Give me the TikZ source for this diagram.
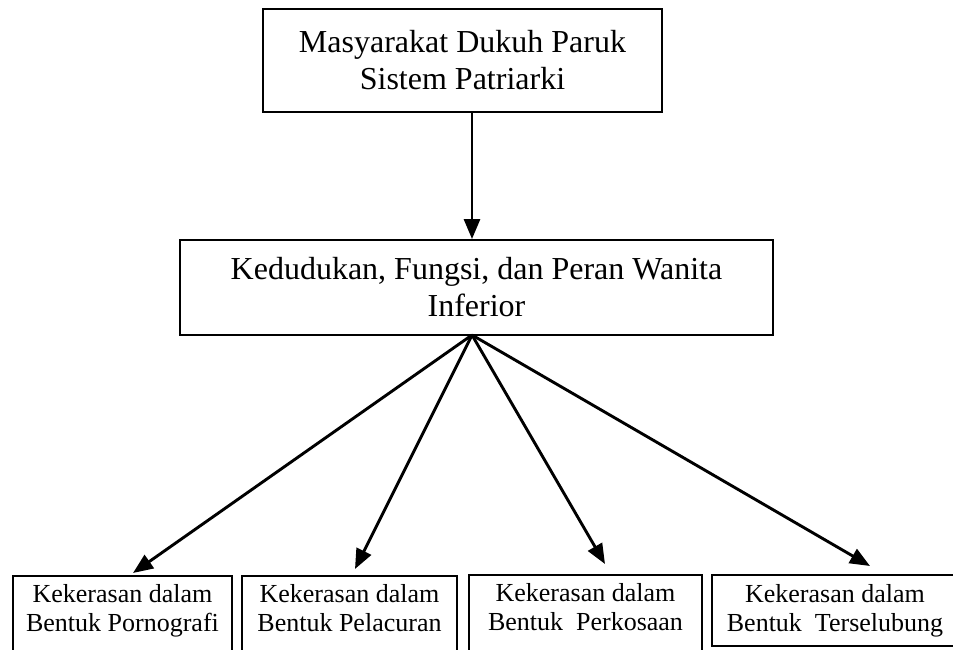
\documentclass[tikz,border=0pt]{standalone}
\usepackage{fontspec}
\setmainfont{Liberation Serif}
\usetikzlibrary{
  arrows.meta,  % panah segitiga
  positioning   % penempatan relatif
}

\begin{document}
\begin{tikzpicture}[x=1pt, y=-1pt, >={Triangle[length=20pt, width=16pt]},
    kotak/.style={draw, line width=1.9pt, align=center, inner xsep=0pt},
    kotakbesar/.style={kotak, font=\fontsize{32}{37}\selectfont, inner ysep=0pt},
    kotakkecil/.style={kotak, font=\fontsize{26}{29}\selectfont, anchor=north, inner ysep=9pt, minimum height=71pt},
    kotakterbuka/.style={kotakkecil, text depth=40pt},
    panah/.style={->, line width=2.9pt}]
    % batas gambar
    \clip (0,0) rectangle (953,650);

    % kotak atas dan tengah
    \node[kotakbesar, minimum width=399pt, minimum height=103pt] (atas) at (462.5,60.5)
        {Masyarakat Dukuh Paruk\\Sistem Patriarki};
    \node[kotakbesar, minimum width=593pt, minimum height=95pt] (tengah) at (476.5,287.5)
        {Kedudukan, Fungsi, dan Peran Wanita\\Inferior};

    % kotak bawah
    \node[kotakterbuka, minimum width=219pt] (porno) at (122.5,575)
        {Kekerasan dalam\\Bentuk Pornografi};
    \node[kotakterbuka, minimum width=215pt] (lacur) at (349.5,575)
        {Kekerasan dalam\\Bentuk Pelacuran};
    \node[kotakterbuka, minimum width=233pt] (perkosa) at (585.5,574)
        {Kekerasan dalam\\Bentuk\ \ Perkosaan};
    \node[kotakkecil, minimum width=246pt] (selubung) at (835,574)
        {Kekerasan dalam\\Bentuk\ \ Terselubung};

    % titik pangkal dan ujung panah
    \coordinate (pusat) at (472,335);
    \coordinate (u1) at (133,573);
    \coordinate (u2) at (355,569);
    \coordinate (u3) at (605,564);
    \coordinate (u4) at (870,566);

    % panah
    \draw[panah] (atas.south -| pusat) -- (tengah.north -| pusat);
    \draw[panah] (pusat) -- (u1);
    \draw[panah] (pusat) -- (u2);
    \draw[panah] (pusat) -- (u3);
    \draw[panah] (pusat) -- (u4);
\end{tikzpicture}
\end{document}
